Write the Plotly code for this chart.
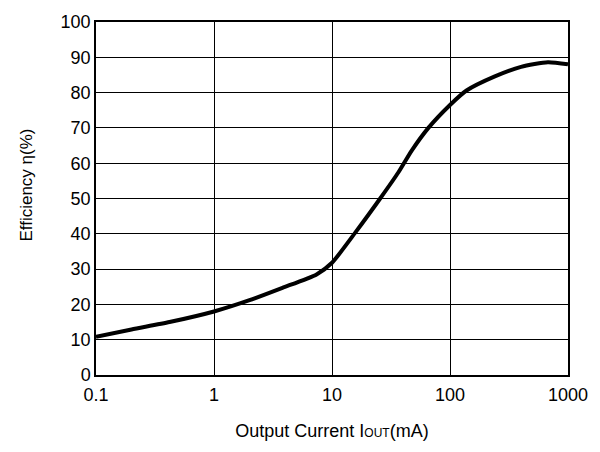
import plotly.graph_objects as go

current_ma = [0.1, 0.2, 0.42, 1, 2, 3.8, 7.4, 10, 15.8, 25.6, 36.7, 47.2, 65.6, 100, 138, 240, 400, 676, 1000]
efficiency = [10.8, 12.9, 15.0, 18.0, 21.2, 24.7, 28.5, 31.8, 40.4, 50.0, 57.5, 63.5, 70.0, 76.5, 80.6, 84.6, 87.3, 88.6, 88.0]

x_ticks = [0.1, 1, 10, 100, 1000]
x_tick_labels = ["0.1", "1", "10", "100", "1000"]
y_ticks = list(range(0, 101, 10))

fig = go.Figure()
fig.add_trace(go.Scatter(
    x=current_ma, y=efficiency, mode="lines",
    line=dict(color="black", width=4, shape="spline", smoothing=0.6),
    showlegend=False, hoverinfo="skip",
))

font = dict(family="Liberation Sans, Arial, sans-serif", size=18, color="black")

fig.update_layout(
    width=600, height=452,
    margin=dict(l=96, r=30, t=15, b=77),
    paper_bgcolor="white", plot_bgcolor="white",
    font=font,
    xaxis=dict(
        type="log", range=[-1, 3],
        tickvals=x_ticks, ticktext=x_tick_labels,
        showgrid=True, gridcolor="black", gridwidth=1,
        showline=True, linecolor="black", linewidth=1.5, mirror=True,
        zeroline=False, ticks="", tickfont=dict(size=18),
        ticklabelstandoff=3,
        title=dict(text="Output Current I<span style='font-size:12px'>OUT</span>(mA)",
                   font=dict(size=18), standoff=20),
    ),
    yaxis=dict(
        range=[0, 100], tickvals=y_ticks,
        showgrid=True, gridcolor="black", gridwidth=1,
        showline=True, linecolor="black", linewidth=1.5, mirror=True,
        zeroline=False, ticks="", tickfont=dict(size=18),
    ),
    annotations=[dict(
        text="Efficiency η(%)", textangle=-90, showarrow=False,
        xref="paper", yref="paper", x=-0.148, y=0.537,
        xanchor="center", yanchor="middle", font=dict(size=17),
    )],
)

fig.write_html("out.html", config={"displayModeBar": False},
               post_script="document.body.style.margin='0';document.body.style.padding='0';")
